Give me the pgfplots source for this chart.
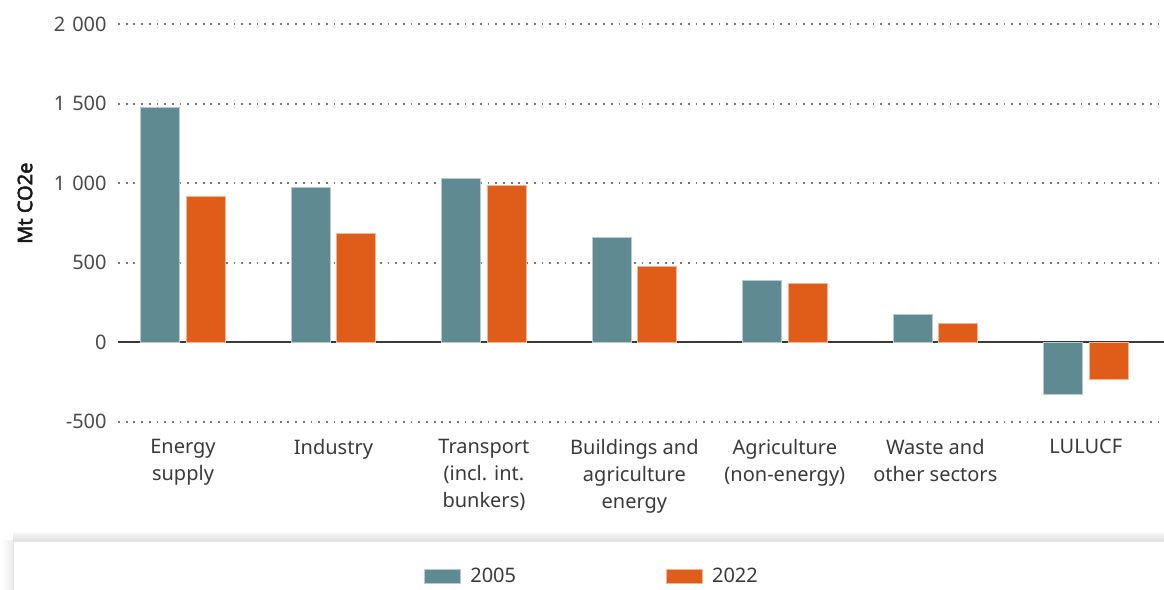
\documentclass[border=0pt]{standalone}
\usepackage{pgfplots}
\pgfplotsset{compat=1.18}
\usepackage{fontspec}
\setmainfont{Noto Sans}
\newfontfamily\boldlab{Noto Sans}[FakeBold=2.5]
\definecolor{c05}{HTML}{5F8A92}
\definecolor{c22}{HTML}{DF5C19}
\definecolor{txt}{HTML}{3A3A3A}
\definecolor{tick}{HTML}{4A4A4A}
\definecolor{gridc}{HTML}{777777}
\newcommand\lab{\fontsize{10bp}{13.5bp}\selectfont}
\begin{document}
\begin{tikzpicture}
\useasboundingbox (0,0) rectangle (582bp,295bp);
% legend panel with soft shadow
\shade[top color=white, bottom color=black!13] (6.5bp,24.5bp) rectangle (582bp,30bp);
\shade[left color=white, right color=black!8] (0.5bp,0) rectangle (6.5bp,24.5bp);
\fill[white] (6.5bp,0) rectangle (582bp,24.5bp);
\draw[black!10, line width=0.4bp] (6.5bp,0) -- (6.5bp,24.5bp) -- (582bp,24.5bp);
\begin{axis}[
  at={(59bp,84.1bp)}, anchor=south west,
  scale only axis, width=523bp, height=198.75bp,
  xmin=-0.432, xmax=6.52, ymin=-500, ymax=2000,
  axis line style={draw=none}, tick style={draw=none},
  ytick={-500,500,1000,1500,2000},
  extra y ticks={0},
  extra y tick style={grid=major, major grid style={solid, draw=txt, line width=0.9bp}},
  ymajorgrids,
  major grid style={draw=gridc, line width=0.9bp, dash pattern=on 0.9bp off 2.95bp},
  /pgf/number format/assume math mode=true,
  /pgf/number format/1000 sep={\hspace{3.5bp}},
  yticklabel style={font=\lab, text=tick, anchor=east, inner sep=0pt, xshift=-5.5bp},
  xtick={0,1,2,3,4,5,6},
  xticklabels={{Energy\\supply},{Industry},{Transport\\(incl. int.\\bunkers)},{Buildings and\\agriculture\\energy},{Agriculture\\(non-energy)},{Waste and\\other sectors},{LULUCF}},
  xticklabel style={font=\lab, text=txt, align=center, anchor=north, inner sep=0pt, yshift=-8.6bp},
  ylabel={Mt CO2e},
  ylabel style={font=\boldlab\lab, text=black!90, at={(axis description cs:-0.0889,0.55)}, anchor=center},
  legend columns=2,
  legend image code/.code={\fill[#1] (0bp,-3.5bp) rectangle (18bp,3.5bp);},
  legend style={draw=none, fill=none, inner sep=0pt, font=\lab, text=txt,
    at={(axis description cs:0.2925,-0.3904)}, anchor=west,
    nodes={inner sep=0pt},
    column sep=4.5bp,
    /tikz/every even column/.append style={column sep=75bp}},
]
\addplot[ybar, bar width=19.5bp, bar shift=-11.4bp, fill=c05, draw=c05!45!white, line width=0.5bp]
  coordinates {(0,1478) (1,975) (2,1033) (3,660) (4,387) (5,172) (6,-331)};
\addlegendentry{2005}
\addplot[ybar, bar width=19.5bp, bar shift=11.4bp, fill=c22, draw=c22!45!white, line width=0.5bp]
  coordinates {(0,916) (1,687) (2,987) (3,478) (4,369) (5,117) (6,-235)};
\addlegendentry{2022}
\end{axis}
\end{tikzpicture}
\end{document}
